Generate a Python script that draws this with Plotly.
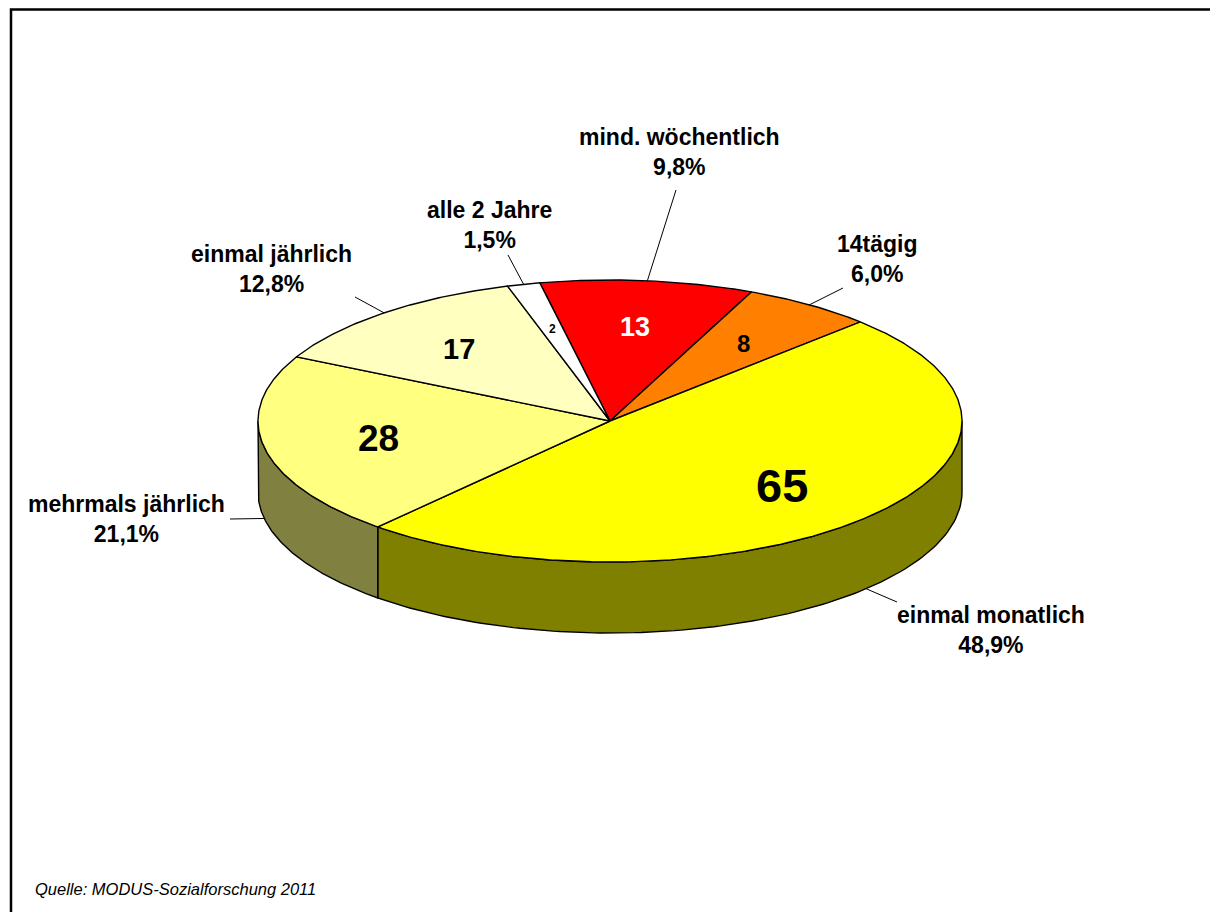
import numpy as np
import plotly.graph_objects as go

# ---------------- data ----------------
categories = ["mind. wöchentlich", "14tägig", "einmal monatlich",
              "mehrmals jährlich", "einmal jährlich", "alle 2 Jahre"]
values = [13, 8, 65, 28, 17, 2]
source_text = "Quelle: MODUS-Sozialforschung 2011"

# ---------------- styles / layout ----------------
top_colors = ["#FF0000", "#FF8000", "#FFFF00", "#FFFF80", "#FFFFC0", "#FFFFFF"]
side_colors = ["#800000", "#804000", "#808000", "#808040", "#808060", "#808080"]
inner_font_sizes = [27, 24, 47, 37, 29, 12]
inner_font_colors = ["white", "black", "black", "black", "black", "black"]
label_xy = [(679, 152), (877, 259), (991, 630), (126, 519), (271, 269), (489, 225)]
leader_outer = [(676, 190), (843, 288), (897, 602), (230, 519), (355, 297), (508, 255)]

W, H = 1210, 912
CX, CY, RX, RY, DEPTH = 610, 421, 352, 141, 71
START = -11.5
FONT = "Arial, Liberation Sans, sans-serif"


def pt(theta, dz=0.0, r=1.0):
    t = np.radians(theta)
    return CX + r * RX * np.sin(t), CY - r * RY * np.cos(t) + dz


total = float(sum(values))
spans = [v / total * 360.0 for v in values]
starts = list(START + np.concatenate([[0], np.cumsum(spans)[:-1]]))

fig = go.Figure()

# side faces (visible between 90 and 270 degrees)
for a, s, col in zip(starts, spans, side_colors):
    b = a + s
    lo, hi = max(a, 90.0), min(b, 270.0)
    if hi <= lo:
        continue
    th = np.linspace(lo, hi, 120)
    xt, yt = pt(th)
    xb, yb = pt(th[::-1], DEPTH)
    xs = np.concatenate([xt, xb, xt[:1]])
    ys = np.concatenate([yt, yb, yt[:1]])
    fig.add_trace(go.Scatter(x=xs, y=ys, mode="lines", fill="toself",
                             fillcolor=col, line=dict(color="black", width=1.4),
                             hoverinfo="skip", showlegend=False))

# top faces
for a, s, col in zip(starts, spans, top_colors):
    th = np.linspace(a, a + s, max(int(s * 2), 8))
    xa, ya = pt(th)
    xs = np.concatenate([[CX], xa, [CX]])
    ys = np.concatenate([[CY], ya, [CY]])
    fig.add_trace(go.Scatter(x=xs, y=ys, mode="lines", fill="toself",
                             fillcolor=col, line=dict(color="black", width=1.4),
                             hoverinfo="skip", showlegend=False))

annotations = []
for cat, v, a, s, fs, fc, lxy, lo in zip(categories, values, starts, spans,
                                         inner_font_sizes, inner_font_colors,
                                         label_xy, leader_outer):
    m = a + s / 2.0
    # inner value label
    ix, iy = pt(m, r=0.67)
    annotations.append(dict(x=ix, y=iy, xref="x", yref="y", text=str(v),
                            showarrow=False, xanchor="center", yanchor="middle",
                            font=dict(family=FONT, size=fs, color=fc, weight="bold")))
    # leader line
    mm = m % 360
    dz = DEPTH if 90 < mm < 270 else 0.0
    rx, ry = pt(m, dz)
    fig.add_trace(go.Scatter(x=[rx, lo[0]], y=[ry, lo[1]], mode="lines",
                             line=dict(color="black", width=1),
                             hoverinfo="skip", showlegend=False))
    pct = f"{v / total * 100:.1f}".replace(".", ",") + "%"
    annotations.append(dict(x=lxy[0], y=lxy[1], xref="x", yref="y",
                            text=f"{cat}<br>{pct}", showarrow=False,
                            xanchor="center", yanchor="middle", align="center",
                            font=dict(family=FONT, size=23, color="black", weight="bold")))

annotations.append(dict(x=33, y=889, xref="x", yref="y", text=source_text,
                        showarrow=False, xanchor="left", yanchor="middle",
                        font=dict(family=FONT, size=16.5, color="black", style="italic")))

fig.update_layout(
    width=W, height=H,
    margin=dict(l=0, r=0, t=0, b=0),
    paper_bgcolor="white", plot_bgcolor="white",
    xaxis=dict(range=[0, W], visible=False, fixedrange=True),
    yaxis=dict(range=[H, 0], visible=False, fixedrange=True),
    annotations=annotations,
    shapes=[dict(type="rect", xref="x", yref="y", x0=11, y0=9.5, x1=W + 20, y1=H + 20,
                 line=dict(color="black", width=2.5), fillcolor="rgba(0,0,0,0)")],
)

fig.write_html("out.html", post_script="document.body.style.margin='0';",
               config={"displayModeBar": False})
